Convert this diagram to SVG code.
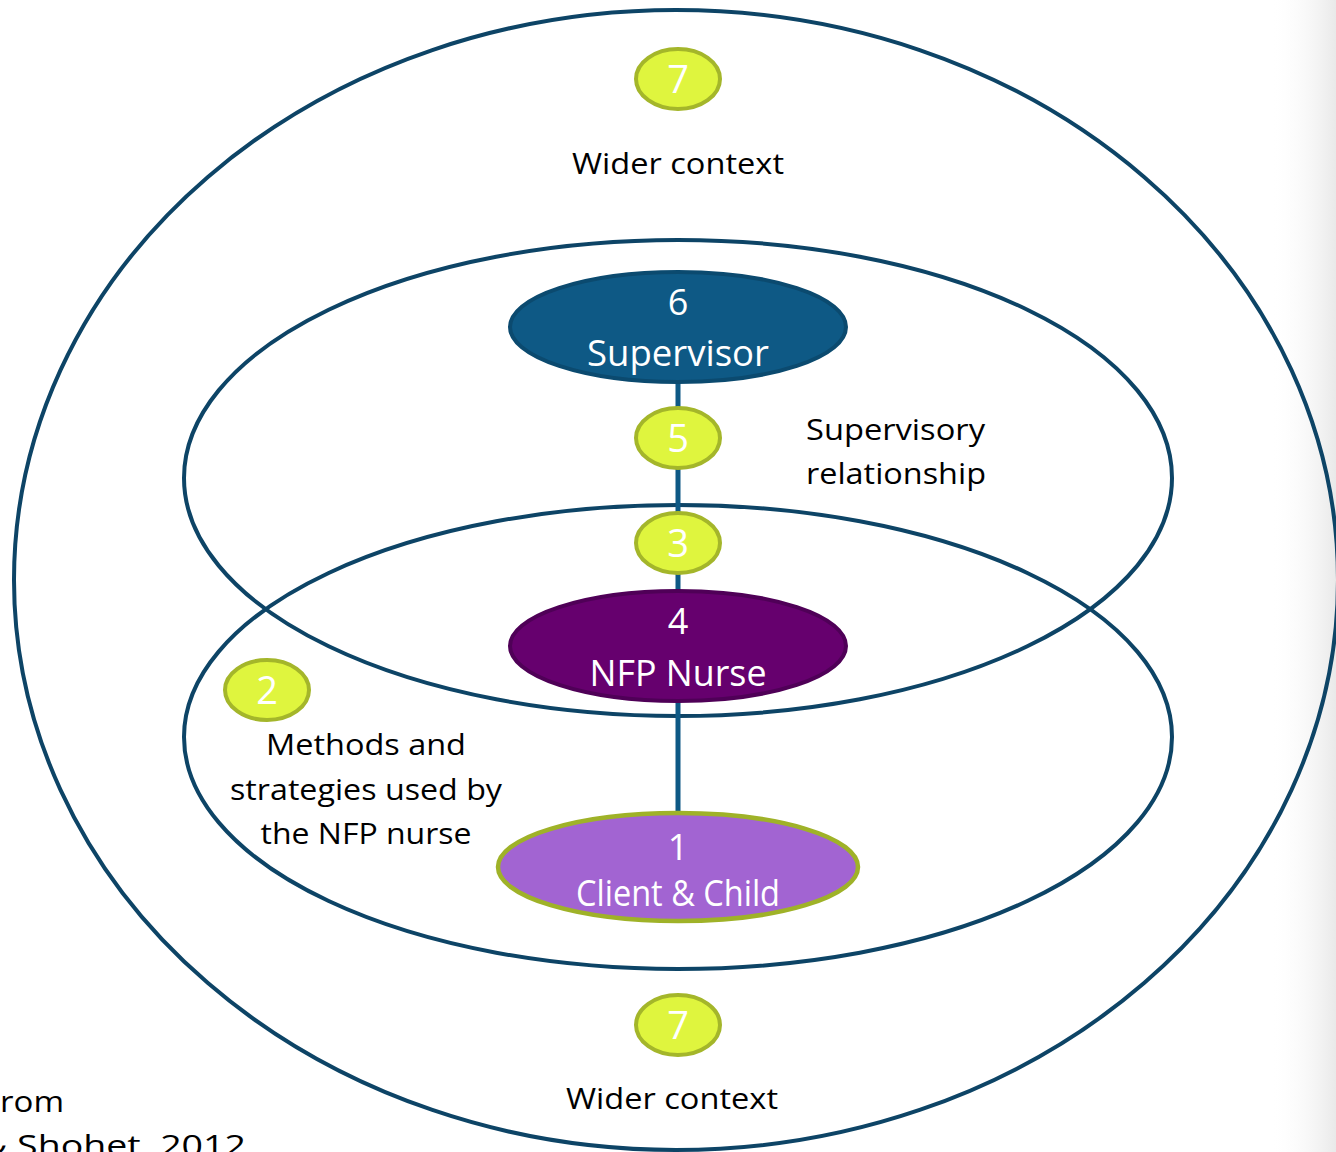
<svg xmlns="http://www.w3.org/2000/svg" width="1336" height="1152" viewBox="0 0 1336 1152">
  <defs>
    <linearGradient id="edgeShade" x1="0" y1="0" x2="1" y2="0">
      <stop offset="0" stop-color="#ffffff" stop-opacity="0"/>
      <stop offset="1" stop-color="#e9e9e9" stop-opacity="1"/>
    </linearGradient>
    <style>
      .ring { fill: none; stroke: #0d4466; stroke-width: 4; }
      .link { stroke: #0e5985; stroke-width: 5; fill: none; }
      .badge { fill: #dff53e; stroke: #a4b62a; stroke-width: 4; }
      .badge-num { fill: #ffffff; font-family: "Open Sans", "Noto Sans", sans-serif; font-size: 38px; text-anchor: middle; }
      .node-text { fill: #ffffff; font-family: "Open Sans", "Noto Sans", sans-serif; font-size: 36px; text-anchor: middle; }
      .label { fill: #000000; font-family: "Open Sans", "Noto Sans", sans-serif; font-size: 29px; }
      .mid { text-anchor: middle; }
    </style>
  </defs>

  <rect x="0" y="0" width="1336" height="1152" fill="#ffffff"/>
  <rect x="1270" y="0" width="66" height="1152" fill="url(#edgeShade)"/>

  <!-- context rings -->
  <g id="rings">
    <ellipse id="ring-wider" class="ring" cx="676" cy="580" rx="662" ry="570"/>
    <ellipse id="ring-supervisory" class="ring" cx="678" cy="478" rx="494" ry="238"/>
    <ellipse id="ring-methods" class="ring" cx="678" cy="737" rx="494" ry="232"/>
  </g>

  <!-- connectors -->
  <g id="connectors">
    <line class="link" x1="678" y1="380" x2="678" y2="814"/>
  </g>

  <g id="node-supervisor">
    <ellipse cx="678" cy="327" rx="168" ry="55" fill="#0e5985" stroke="#0b4a6f" stroke-width="4"/>
    <text class="node-text" x="678" y="315">6</text>
    <text class="node-text" x="678" y="366" textLength="182" lengthAdjust="spacingAndGlyphs">Supervisor</text>
  </g>

  <g id="node-nurse">
    <ellipse cx="678" cy="646" rx="168" ry="55" fill="#66006e" stroke="#4f0057" stroke-width="4"/>
    <text class="node-text" x="678" y="634">4</text>
    <text class="node-text" x="678" y="686" textLength="177" lengthAdjust="spacingAndGlyphs">NFP Nurse</text>
  </g>

  <g id="node-client">
    <ellipse cx="678" cy="867" rx="180" ry="54" fill="#a264d2" stroke="#9fb228" stroke-width="4.5"/>
    <text class="node-text" x="678" y="860" font-size="34">1</text>
    <text class="node-text" x="678" y="906" font-size="33" textLength="204" lengthAdjust="spacingAndGlyphs">Client &amp; Child</text>
  </g>

  <g id="badge-7-top">
    <ellipse class="badge" cx="678" cy="79" rx="42" ry="30"/>
    <text class="badge-num" x="678" y="93">7</text>
  </g>

  <g id="badge-5">
    <ellipse class="badge" cx="678" cy="438" rx="42" ry="30"/>
    <text class="badge-num" x="678" y="452">5</text>
  </g>

  <g id="badge-3">
    <ellipse class="badge" cx="678" cy="543" rx="42" ry="30"/>
    <text class="badge-num" x="678" y="557">3</text>
  </g>

  <g id="badge-2">
    <ellipse class="badge" cx="267" cy="690" rx="42" ry="30"/>
    <text class="badge-num" x="267" y="704">2</text>
  </g>

  <g id="badge-7-bottom">
    <ellipse class="badge" cx="678" cy="1025" rx="42" ry="30"/>
    <text class="badge-num" x="678" y="1039">7</text>
  </g>

  <!-- ring labels -->
  <g id="labels">
    <text class="label mid" x="678" y="174" textLength="212" lengthAdjust="spacingAndGlyphs">Wider context</text>
    <text class="label" x="806" y="440" textLength="179" lengthAdjust="spacingAndGlyphs">Supervisory</text>
    <text class="label" x="806" y="484" textLength="180" lengthAdjust="spacingAndGlyphs">relationship</text>
    <text class="label mid" x="366" y="755" textLength="200" lengthAdjust="spacingAndGlyphs">Methods and</text>
    <text class="label mid" x="366" y="800" textLength="272" lengthAdjust="spacingAndGlyphs">strategies used by</text>
    <text class="label mid" x="366" y="844" textLength="211" lengthAdjust="spacingAndGlyphs">the NFP nurse</text>
    <text class="label mid" x="672" y="1109" textLength="212" lengthAdjust="spacingAndGlyphs">Wider context</text>
    <text class="label" x="0" y="1112" font-size="32" textLength="64" lengthAdjust="spacingAndGlyphs">rom</text>
    <text class="label" x="-20" y="1156" font-size="32" textLength="266" lengthAdjust="spacingAndGlyphs">&amp; Shohet, 2012</text>
  </g>
</svg>
